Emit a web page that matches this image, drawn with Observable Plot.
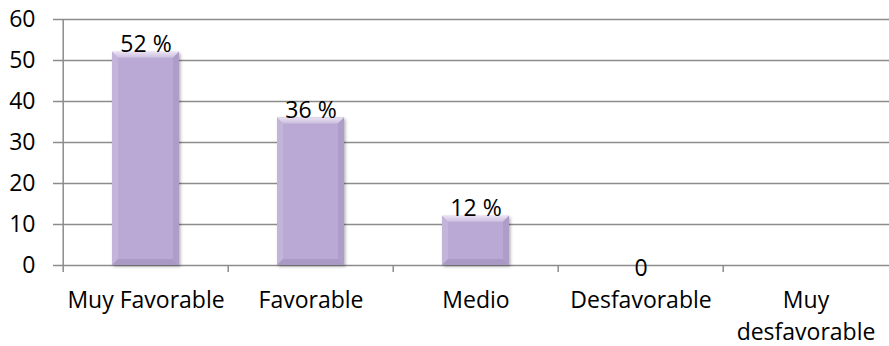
<!DOCTYPE html>
<html><head><meta charset="utf-8">
<script src="https://cdn.jsdelivr.net/npm/d3@7"></script>
<script src="https://cdn.jsdelivr.net/npm/@observablehq/plot@0.6"></script>
<style>html,body{margin:0;padding:0;background:#fff} #chart svg{display:block}</style>
</head><body><div id="chart"></div>
<script>
const categories = ["Muy Favorable", "Favorable", "Medio", "Desfavorable", "Muy desfavorable"];
const tickLabels = ["Muy Favorable", "Favorable", "Medio", "Desfavorable", "Muy\ndesfavorable"];
const values = [52, 36, 12, 0, 0];
const valueLabels = ["52 %", "36 %", "12 %", "0", ""];
const yTicks = [0, 10, 20, 30, 40, 50, 60];

const data = categories.map((c, i) => ({cat: c, value: values[i], label: valueLabels[i]}));
const W = 889, H = 346, ML = 61, MR = 0, MT = 19, MB = 81;
const step = (W - ML - MR) / categories.length;
const fs = 23;
const grid = "#8c8c8c";

const plot = Plot.plot({
  width: W, height: H,
  marginLeft: ML, marginRight: MR, marginTop: MT, marginBottom: MB,
  style: {fontFamily: "'Open Sans', sans-serif", fontSize: fs + "px", color: "#000", background: "#fff", overflow: "visible"},
  x: {domain: categories, padding: 0, label: null},
  y: {domain: [0, 60], label: null},
  marks: [
    Plot.ruleY(yTicks, {stroke: grid, strokeWidth: 1.5, insetLeft: -8}),
    Plot.ruleX([categories[0]], {x: d => d, dx: -step / 2, stroke: grid, strokeWidth: 1.5}),
    Plot.ruleX(categories, {x: d => d, dx: -step / 2, y1: 0, y2: -1.7, stroke: grid, strokeWidth: 1.5}),
    Plot.axisY({ticks: yTicks, tickSize: 0, tickPadding: 26, fontSize: fs, fill: "#000"}),
    Plot.axisX({tickSize: 0, tickPadding: 19, fontSize: fs, lineHeight: 1.42, fill: "#000",
      tickFormat: d => tickLabels[categories.indexOf(d)]}),
    Plot.barY(data, {x: "cat", y: "value", fill: "#BAA9D4", insetLeft: 49, insetRight: 49}),
    Plot.text(data.filter(d => d.value > 0), {x: "cat", y: "value", text: "label", lineAnchor: "bottom", dy: 0, fontSize: fs, fill: "#000"}),
    Plot.text(data.filter(d => d.value === 0 && d.label), {x: "cat", y: "value", text: "label", lineAnchor: "bottom", dy: 10, fontSize: fs, fill: "#000"})
  ]
});

document.getElementById("chart").appendChild(plot);

// bevel + shadow decoration on the bars
const svg = d3.select(plot);
const defs = svg.insert("defs", ":first-child");
const f = defs.append("filter").attr("id", "shadow").attr("x", "-20%").attr("y", "-20%").attr("width", "140%").attr("height", "140%");
f.append("feDropShadow").attr("dx", 1.5).attr("dy", 1.5).attr("stdDeviation", 1.5).attr("flood-color", "#000").attr("flood-opacity", 0.3);
const gTop = defs.append("linearGradient").attr("id", "topbev").attr("x1", 0).attr("y1", 0).attr("x2", 0).attr("y2", 1);
gTop.append("stop").attr("offset", "0%").attr("stop-color", "#EAE2F3");
gTop.append("stop").attr("offset", "100%").attr("stop-color", "#CBBEE0");

svg.selectAll("g[aria-label=bar] rect").each(function() {
  const r = d3.select(this);
  const x = +r.attr("x"), y = +r.attr("y"), w = +r.attr("width"), h = +r.attr("height");
  if (!(h > 2)) return;
  r.attr("filter", "url(#shadow)");
  const g = d3.select(this.parentNode);
  const b = Math.min(6, h / 3);
  const pts = a => a.map(p => p.join(",")).join(" ");
  g.append("polygon").attr("points", pts([[x, y], [x + w, y], [x + w - b, y + b], [x + b, y + b]])).attr("fill", "url(#topbev)");
  g.append("polygon").attr("points", pts([[x, y], [x + b, y + b], [x + b, y + h - b], [x, y + h]])).attr("fill", "#C3B4DA");
  g.append("polygon").attr("points", pts([[x + w, y], [x + w - b, y + b], [x + w - b, y + h - b], [x + w, y + h]])).attr("fill", "#AE9DC8");
  g.append("polygon").attr("points", pts([[x, y + h], [x + w, y + h], [x + w - b, y + h - b], [x + b, y + h - b]])).attr("fill", "#AA99C5");
});
</script>
</body></html>
